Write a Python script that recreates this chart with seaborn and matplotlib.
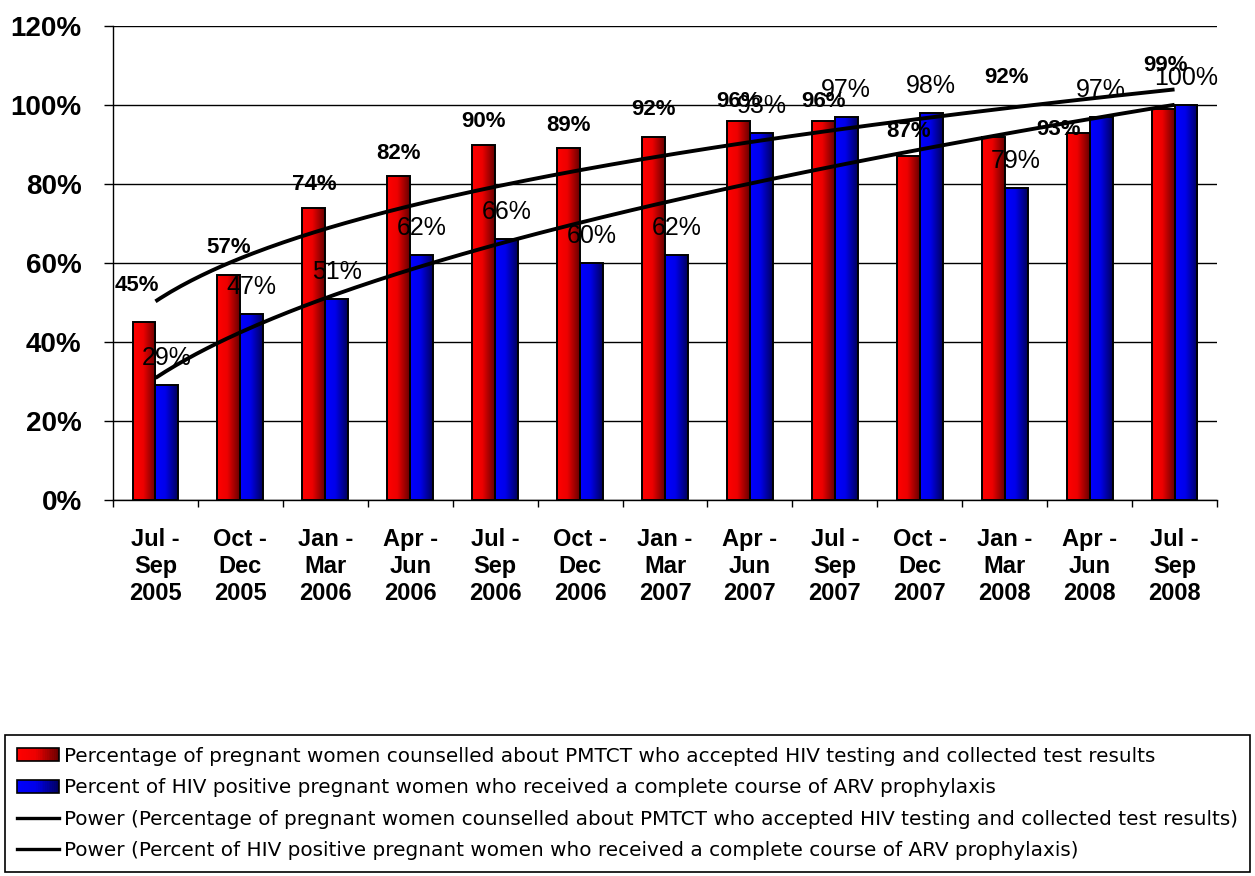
import numpy as np
import pandas as pd
import matplotlib
matplotlib.use("Agg")
import matplotlib.pyplot as plt
import seaborn as sns
from matplotlib.colors import LinearSegmentedColormap
from matplotlib.patches import Rectangle, Patch
from matplotlib.lines import Line2D
from matplotlib.legend_handler import HandlerBase

# ---------------- data ----------------
periods = ["Jul -\nSep\n2005", "Oct -\nDec\n2005", "Jan -\nMar\n2006", "Apr -\nJun\n2006",
           "Jul -\nSep\n2006", "Oct -\nDec\n2006", "Jan -\nMar\n2007", "Apr -\nJun\n2007",
           "Jul -\nSep\n2007", "Oct -\nDec\n2007", "Jan -\nMar\n2008", "Apr -\nJun\n2008",
           "Jul -\nSep\n2008"]
counselled = [45, 57, 74, 82, 90, 89, 92, 96, 96, 87, 92, 93, 99]
arv = [29, 47, 51, 62, 66, 60, 62, 93, 97, 98, 79, 97, 100]
series_names = [
    "Percentage of pregnant women counselled about PMTCT who accepted HIV testing and collected test results",
    "Percent of HIV positive pregnant women who received a complete course of ARV prophylaxis",
]
trend_names = ["Power (" + s + ")" for s in series_names]
yticks = [0, 20, 40, 60, 80, 100, 120]

# label nudges (pixels) for a few hand-placed red labels
red_nudge_x = [-7, 0, 0, 0, 0, 0, 0, 0, 0, 0, 13, -20, 2]
red_nudge_y = [14, 4, 0, 0, 0, 0, 4, -4, -4, 2, 36, -20, 20]

# ---------------- style ----------------
FONT = "Liberation Sans"
plt.rcParams["font.family"] = [FONT, "DejaVu Sans"]
red_cmap = LinearSegmentedColormap.from_list(
    "r", [(0, (1, 0, 0)), (0.45, (0.93, 0, 0)), (1, (0.40, 0, 0))])
blue_cmap = LinearSegmentedColormap.from_list(
    "b", [(0, (0, 0, 1)), (0.45, (0, 0, 0.92)), (1, (0, 0, 0.36))])

df = pd.DataFrame({
    "period": periods * 2,
    "value": counselled + arv,
    "series": [series_names[0]] * len(periods) + [series_names[1]] * len(periods),
})

fig = plt.figure(figsize=(12.55, 8.76), dpi=100)
ax = fig.add_axes([113 / 1255, 1 - 500 / 876, (1217 - 113) / 1255, (500 - 26) / 876])

sns.barplot(data=df, x="period", y="value", hue="series", palette=["#ff0000", "#0000ff"],
            width=0.54, ax=ax, legend=False, edgecolor="black", linewidth=1.4,
            errorbar=None, zorder=2)

# gradient fills clipped to each bar
grad = np.linspace(0, 1, 256).reshape(1, -1)
n = len(periods)
for i, p in enumerate(ax.patches):
    cmap = red_cmap if i < n else blue_cmap
    x0, w, h = p.get_x(), p.get_width(), p.get_height()
    im = ax.imshow(grad, cmap=cmap, extent=[x0, x0 + w, 0, h], aspect="auto",
                   zorder=1.5, interpolation="bilinear")
    im.set_clip_path(p)
    p.set_facecolor("none")
    p.set_zorder(2)

ax.set_xlim(-0.5, n - 0.5)
ax.set_ylim(0, 120)
ax.set_yticks(yticks)
ax.set_yticklabels([f"{t}%" for t in yticks])

# power trendlines (fit y = a*x^b in log space)
xs = np.arange(1, n + 1)
xf = np.linspace(1, n, 200)
for vals in (counselled, arv):
    b, lna = np.polyfit(np.log(xs), np.log(np.array(vals) / 100.0), 1)
    yf = np.exp(lna) * xf ** b * 100
    ax.plot(xf - 1, yf, color="black", lw=2.8, zorder=4, solid_capstyle="butt")

# data labels
px = 72 / 100
bars = ax.patches
for i in range(n):
    rb = bars[i]
    ax.annotate(f"{counselled[i]}%", (rb.get_x() + rb.get_width() / 2, counselled[i]),
                xytext=(red_nudge_x[i] * px, (23 + red_nudge_y[i]) * px), textcoords="offset points",
                ha="center", va="center", fontsize=16, fontweight="bold", zorder=5)
    bb = bars[n + i]
    ax.annotate(f"{arv[i]}%", (bb.get_x() + bb.get_width() / 2, arv[i]),
                xytext=(0, 27 * px), textcoords="offset points",
                ha="center", va="center", fontsize=18, zorder=5)

# axes styling
ax.set_facecolor("white")
ax.grid(axis="y", color="black", lw=1.0, zorder=0.5)
ax.grid(axis="x", visible=False)
ax.set_axisbelow(True)
for s in ("top", "right"):
    ax.spines[s].set_visible(False)
for s in ("left", "bottom"):
    ax.spines[s].set_color("black")
    ax.spines[s].set_linewidth(1.0)
ax.set_xlabel("")
ax.set_ylabel("")
ax.tick_params(axis="y", length=6.5, width=1.0, pad=16, labelsize=20, colors="black")
for t in ax.get_yticklabels():
    t.set_fontweight("bold")
ax.tick_params(axis="x", which="major", length=0, pad=20, labelsize=17)
for t in ax.get_xticklabels():
    t.set_fontweight("bold")
    t.set_linespacing(1.24)
ax.set_xticks(np.arange(-0.5, n, 1.0), minor=True)
ax.tick_params(axis="x", which="minor", length=5, width=1.0, direction="out", color="black")


# legend with gradient swatches
class GradHandler(HandlerBase):
    def __init__(self, cmap):
        super().__init__()
        self.cmap = cmap

    def create_artists(self, legend, orig_handle, xdescent, ydescent, width, height, fontsize, trans):
        arts = []
        k = 24
        for j in range(k):
            arts.append(Rectangle((-xdescent + width * j / k, -ydescent), width / k * 1.05, height,
                                  facecolor=self.cmap((j + 0.5) / k), edgecolor="none", transform=trans))
        arts.append(Rectangle((-xdescent, -ydescent), width, height, facecolor="none",
                              edgecolor="black", lw=1.2, transform=trans))
        return arts


h_red = Patch(facecolor="red")
h_blue = Patch(facecolor="blue")
h_l1 = Line2D([], [], color="black", lw=2.4)
h_l2 = Line2D([], [], color="black", lw=2.4)
leg = fig.legend([h_red, h_blue, h_l1, h_l2], series_names + trend_names,
                 loc="lower left", bbox_to_anchor=(5 / 1255, 4 / 876, 1245 / 1255, 0.1),
                 mode="expand", frameon=True, fancybox=False, shadow=False,
                 prop={"family": ["DejaVu Sans"], "size": 14.4},
                 framealpha=1, edgecolor="black", handlelength=2.1, handleheight=0.62,
                 handletextpad=0.25, labelspacing=0.62, borderpad=0.6, borderaxespad=0,
                 handler_map={h_red: GradHandler(red_cmap), h_blue: GradHandler(blue_cmap)})
leg.get_frame().set_linewidth(1.2)

fig.savefig("out.png", dpi=100, facecolor="white")
